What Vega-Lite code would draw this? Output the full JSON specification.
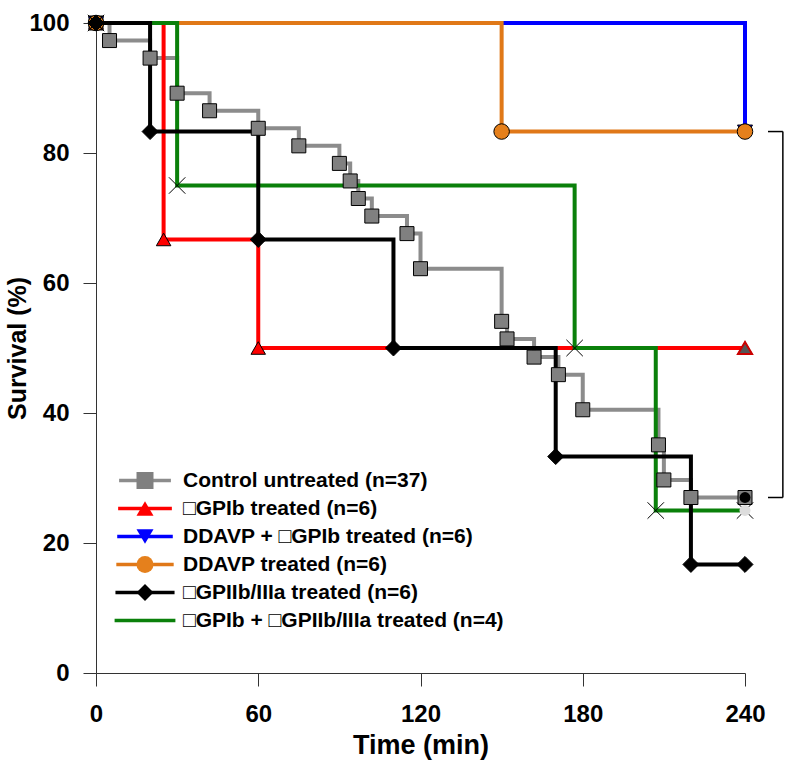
{
  "$schema": "https://vega.github.io/schema/vega-lite/v6.json",
  "width": 649,
  "height": 650,
  "autosize": {"type": "none"},
  "padding": {"left": 96, "top": 23, "right": 55, "bottom": 95},
  "background": "white",
  "config": {
    "view": {"stroke": null},
    "font": "Liberation Sans",
    "axis": {
      "grid": false,
      "domainColor": "#333333",
      "tickColor": "#333333",
      "tickSize": 13,
      "labelFlush": false,
      "labelFont": "Liberation Sans",
      "labelFontWeight": "bold",
      "labelFontSize": 24,
      "labelColor": "black",
      "titleFont": "Liberation Sans",
      "titleFontWeight": "bold",
      "titleColor": "black"
    }
  },
  "datasets": {
    "km": [
      {"group": "Control untreated (n=37)", "t": 0, "S": 100},
      {"group": "Control untreated (n=37)", "t": 5, "S": 97.3},
      {"group": "Control untreated (n=37)", "t": 20, "S": 94.6},
      {"group": "Control untreated (n=37)", "t": 30, "S": 89.2},
      {"group": "Control untreated (n=37)", "t": 42, "S": 86.5},
      {"group": "Control untreated (n=37)", "t": 60, "S": 83.8},
      {"group": "Control untreated (n=37)", "t": 75, "S": 81.1},
      {"group": "Control untreated (n=37)", "t": 90, "S": 78.4},
      {"group": "Control untreated (n=37)", "t": 94, "S": 75.7},
      {"group": "Control untreated (n=37)", "t": 97, "S": 73.0},
      {"group": "Control untreated (n=37)", "t": 102, "S": 70.3},
      {"group": "Control untreated (n=37)", "t": 115, "S": 67.6},
      {"group": "Control untreated (n=37)", "t": 120, "S": 62.2},
      {"group": "Control untreated (n=37)", "t": 150, "S": 54.1},
      {"group": "Control untreated (n=37)", "t": 152, "S": 51.4},
      {"group": "Control untreated (n=37)", "t": 162, "S": 48.6},
      {"group": "Control untreated (n=37)", "t": 171, "S": 45.9},
      {"group": "Control untreated (n=37)", "t": 180, "S": 40.5},
      {"group": "Control untreated (n=37)", "t": 208, "S": 35.1},
      {"group": "Control untreated (n=37)", "t": 210, "S": 29.7},
      {"group": "Control untreated (n=37)", "t": 220, "S": 27.0},
      {"group": "Control untreated (n=37)", "t": 240, "S": 27.0},
      {"group": "□GPIb treated (n=6)", "t": 0, "S": 100},
      {"group": "□GPIb treated (n=6)", "t": 25, "S": 66.7},
      {"group": "□GPIb treated (n=6)", "t": 60, "S": 50},
      {"group": "□GPIb treated (n=6)", "t": 240, "S": 50},
      {"group": "DDAVP + □GPIb treated (n=6)", "t": 0, "S": 100},
      {"group": "DDAVP + □GPIb treated (n=6)", "t": 240, "S": 83.3},
      {"group": "DDAVP treated (n=6)", "t": 0, "S": 100},
      {"group": "DDAVP treated (n=6)", "t": 150, "S": 83.3},
      {"group": "DDAVP treated (n=6)", "t": 240, "S": 83.3},
      {"group": "□GPIb + □GPIIb/IIIa treated (n=4)", "t": 0, "S": 100},
      {"group": "□GPIb + □GPIIb/IIIa treated (n=4)", "t": 30, "S": 75},
      {"group": "□GPIb + □GPIIb/IIIa treated (n=4)", "t": 177, "S": 50},
      {"group": "□GPIb + □GPIIb/IIIa treated (n=4)", "t": 207, "S": 25},
      {"group": "□GPIb + □GPIIb/IIIa treated (n=4)", "t": 240, "S": 25},
      {"group": "□GPIIb/IIIa treated (n=6)", "t": 0, "S": 100},
      {"group": "□GPIIb/IIIa treated (n=6)", "t": 20, "S": 83.3},
      {"group": "□GPIIb/IIIa treated (n=6)", "t": 60, "S": 66.7},
      {"group": "□GPIIb/IIIa treated (n=6)", "t": 110, "S": 50},
      {"group": "□GPIIb/IIIa treated (n=6)", "t": 170, "S": 33.3},
      {"group": "□GPIIb/IIIa treated (n=6)", "t": 220, "S": 16.7},
      {"group": "□GPIIb/IIIa treated (n=6)", "t": 240, "S": 16.7}
    ],
    "censor": [
      {"group": "Control untreated (n=37)", "t": 240, "S": 27.0},
      {"group": "□GPIb treated (n=6)", "t": 240, "S": 50},
      {"group": "□GPIb + □GPIIb/IIIa treated (n=4)", "t": 240, "S": 25}
    ],
    "bracket": [
      {"x1": 254, "x2": 254, "y1": 83.3, "y2": 27.0},
      {"x1": 248.5, "x2": 254, "y1": 83.3, "y2": 83.3},
      {"x1": 248.5, "x2": 254, "y1": 27.0, "y2": 27.0}
    ]
  },
  "layer": [
    {
      "data": {"name": "km"},
      "mark": {"type": "line", "interpolate": "step-after", "strokeWidth": 4, "clip": false},
      "encoding": {
        "x": {
          "field": "t", "type": "quantitative",
          "scale": {"domain": [0, 240], "nice": false, "zero": false},
          "axis": {"values": [0, 60, 120, 180, 240], "title": "Time (min)", "titleFontSize": 27, "labelPadding": 16, "titlePadding": 6}
        },
        "y": {
          "field": "S", "type": "quantitative",
          "scale": {"domain": [0, 100], "nice": false},
          "axis": {"values": [0, 20, 40, 60, 80, 100], "title": "Survival (%)", "titleFontSize": 25, "labelPadding": 14, "titlePadding": -2}
        },
        "stroke": {
          "field": "group", "type": "nominal",
          "scale": {
            "domain": ["Control untreated (n=37)", "□GPIb treated (n=6)", "DDAVP + □GPIb treated (n=6)", "DDAVP treated (n=6)", "□GPIIb/IIIa treated (n=6)", "□GPIb + □GPIIb/IIIa treated (n=4)"],
            "range": ["#8c8c8c", "#ff0000", "#0000ff", "#e07818", "#000000", "#0a800a"]
          },
          "legend": {
            "orient": "none", "legendX": 38.5, "legendY": 447, "title": null,
            "symbolType": "M-3.7,0H3.7", "symbolSize": 81, "symbolStrokeWidth": 3.5,
            "labelFont": "Liberation Sans", "labelFontSize": 21, "labelFontWeight": "bold",
            "labelColor": "black", "labelOffset": 27.5, "rowPadding": 6, "padding": 0, "labelLimit": 600
          }
        }
      }
    },
    {
      "data": {"name": "km"},
      "mark": {"type": "point", "filled": true, "opacity": 1, "stroke": "black", "strokeWidth": 1, "clip": false},
      "encoding": {
        "x": {"field": "t", "type": "quantitative"},
        "y": {"field": "S", "type": "quantitative"},
        "fill": {
          "field": "group", "type": "nominal",
          "scale": {
            "range": ["#808080", "#0000ff", "#e5801c", "#000000", "#0a800a", "#ff0000"]
          },
          "legend": {
            "orient": "none", "legendX": 38.5, "legendY": 447, "title": null,
            "values": ["Control untreated (n=37)", "□GPIb treated (n=6)", "DDAVP + □GPIb treated (n=6)", "DDAVP treated (n=6)", "□GPIIb/IIIa treated (n=6)", "□GPIb + □GPIIb/IIIa treated (n=4)"],
            "symbolSize": 289, "symbolStrokeColor": "black", "symbolStrokeWidth": 1,
            "labelFont": "Liberation Sans", "labelFontSize": 21, "labelFontWeight": "bold",
            "labelExpr": "''", "labelOffset": 27.5, "rowPadding": 6, "padding": 0
          }
        },
        "shape": {
          "field": "group", "type": "nominal",
          "scale": {
            "range": ["square", "triangle-down", "circle", "diamond", "M-1,-1L1,1M-1,1L1,-1", "triangle-up"]
          },
          "legend": {
            "orient": "none", "legendX": 38.5, "legendY": 447, "title": null,
            "values": ["Control untreated (n=37)", "□GPIb treated (n=6)", "DDAVP + □GPIb treated (n=6)", "DDAVP treated (n=6)", "□GPIIb/IIIa treated (n=6)", "□GPIb + □GPIIb/IIIa treated (n=4)"],
            "symbolSize": 289, "symbolStrokeColor": "black", "symbolStrokeWidth": 1,
            "labelFont": "Liberation Sans", "labelFontSize": 21, "labelFontWeight": "bold",
            "labelExpr": "''", "labelOffset": 27.5, "rowPadding": 6, "padding": 0
          }
        },
        "size": {
          "field": "group", "type": "nominal",
          "scale": {
            "domain": ["Control untreated (n=37)", "□GPIb treated (n=6)", "DDAVP + □GPIb treated (n=6)", "DDAVP treated (n=6)", "□GPIIb/IIIa treated (n=6)", "□GPIb + □GPIIb/IIIa treated (n=4)"],
            "range": [196, 270, 270, 225, 340, 225]
          },
          "legend": null
        }
      }
    },
    {
      "data": {"name": "censor"},
      "mark": {"type": "point", "filled": true, "opacity": 1, "clip": false},
      "encoding": {
        "x": {"field": "t", "type": "quantitative"},
        "y": {"field": "S", "type": "quantitative"},
        "shape": {"condition": {"test": "datum.group === '□GPIb treated (n=6)'", "value": "triangle-up"}, "value": "circle"},
        "fill": {"condition": [
          {"test": "datum.group === 'Control untreated (n=37)'", "value": "black"},
          {"test": "datum.group === '□GPIb treated (n=6)'", "value": "#555555"}
        ], "value": "#dddddd"},
        "stroke": {"condition": {"test": "datum.group === '□GPIb treated (n=6)'", "value": "#cc0000"}, "value": null},
        "size": {"condition": {"test": "datum.group === '□GPIb treated (n=6)'", "value": 200}, "value": 120}
      }
    },
    {
      "data": {"name": "bracket"},
      "mark": {"type": "rule", "color": "black", "strokeWidth": 1.5, "clip": false},
      "encoding": {
        "x": {"field": "x1", "type": "quantitative"},
        "x2": {"field": "x2"},
        "y": {"field": "y1", "type": "quantitative"},
        "y2": {"field": "y2"}
      }
    }
  ]
}
